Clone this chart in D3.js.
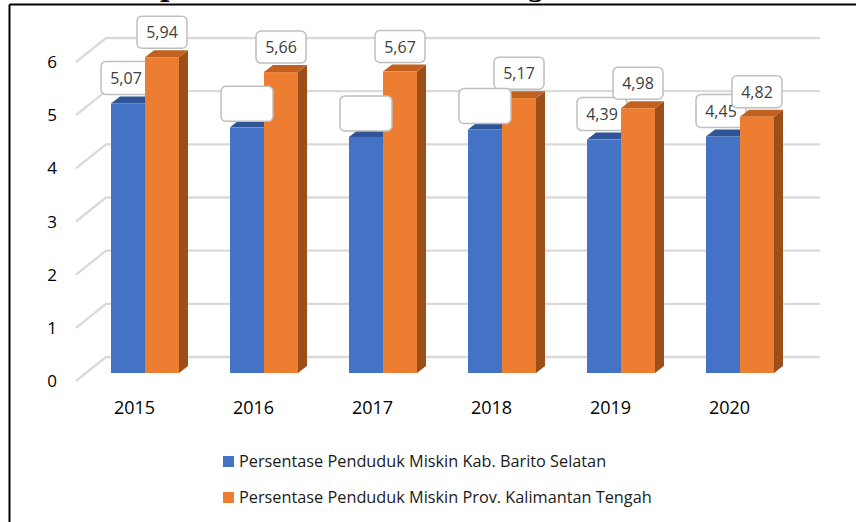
<!DOCTYPE html>
<html>
<head>
<meta charset="utf-8">
<script src="https://cdn.jsdelivr.net/npm/d3@7"></script>
<style>
  html, body { margin: 0; padding: 0; background: #ffffff; }
  svg { display: block; }
</style>
</head>
<body>
<svg id="chart" width="856" height="522"></svg>
<script>
// ---- data ----
const categories = ["2015", "2016", "2017", "2018", "2019", "2020"];
const seriesNames = [
  "Persentase Penduduk Miskin Kab. Barito Selatan",
  "Persentase Penduduk Miskin Prov. Kalimantan Tengah"
];
const kabValues = [5.07, 4.62, 4.44, 4.58, 4.39, 4.45];
const provValues = [5.94, 5.66, 5.67, 5.17, 4.98, 4.82];
const kabLabelShown = [true, false, false, false, true, true];
const yTicks = [0, 1, 2, 3, 4, 5, 6];

// ---- styles ----
const colors = {
  kab: { front: "#4472C4", top: "#2F5597", side: "#2F5597" },
  prov: { front: "#ED7D31", top: "#C2601F", side: "#9C4F1B" }
};
const fontSans = "'Open Sans', 'Noto Sans', sans-serif";

const svg = d3.select("#chart");

// Title remnants (clipped at the top of the frame, as in the source image)
svg.append("text").attr("x", 160).attr("y", -3)
  .attr("font-family", "'DejaVu Serif', 'Liberation Serif', serif")
  .attr("font-weight", "bold").attr("font-size", 26).attr("fill", "#000").text("p");
svg.append("text").attr("x", 527).attr("y", -3)
  .attr("font-family", "'DejaVu Serif', 'Liberation Serif', serif")
  .attr("font-weight", "bold").attr("font-size", 26).attr("fill", "#000").text("g");

// Frame lines
svg.append("line").attr("x1", 9.5).attr("x2", 856).attr("y1", 4.5).attr("y2", 4.5)
  .attr("stroke", "#000").attr("stroke-width", 2);
svg.append("line").attr("x1", 9.5).attr("x2", 9.5).attr("y1", 4.5).attr("y2", 522)
  .attr("stroke", "#000").attr("stroke-width", 2);

// ---- scales ----
const x = d3.scaleBand().domain(categories).range([76, 790]).padding(0);
const inner = d3.scaleBand().domain(["kab", "prov"]).range([35, 103]).padding(0);
const y = d3.scaleLinear().domain([0, 6]).range([381, 62]);

const depth = { dx: 30, dy: -24 };      // wall depth
const barDepth = { dx: 9, dy: -7 };     // bar depth
const barLift = 8;                      // bars sit slightly back on the floor
const gridRight = 820;

// ---- gridlines (left wall diagonals + back wall) ----
const grid = svg.append("g");
yTicks.forEach(t => {
  const fy = y(t);
  grid.append("path")
    .attr("d", `M76,${fy} L${76 + depth.dx},${fy + depth.dy} L${gridRight},${fy + depth.dy}`)
    .attr("fill", "none").attr("stroke", "#dadada").attr("stroke-width", 2.4);
});

// y tick labels
svg.append("g").selectAll("text").data(yTicks).join("text")
  .attr("x", 52).attr("y", d => y(d) + 6)
  .attr("text-anchor", "middle")
  .attr("font-family", fontSans).attr("font-size", 17).attr("fill", "#000")
  .text(d => d);

// category labels
svg.append("g").selectAll("text").data(categories).join("text")
  .attr("x", d => x(d) + x.bandwidth() / 2 - 1).attr("y", 414)
  .attr("text-anchor", "middle")
  .attr("font-family", fontSans).attr("font-size", 18).attr("fill", "#000")
  .text(d => d);

// ---- bars ----
function drawBar(g, x0, w, v, c) {
  const yt = y(v) - barLift, yb = y(0) - barLift, x1 = x0 + w;
  const dx = barDepth.dx, dy = barDepth.dy;
  g.append("path").attr("d", `M${x1},${yt} L${x1 + dx},${yt + dy} L${x1 + dx},${yb + dy} L${x1},${yb}Z`)
    .attr("fill", c.side);
  g.append("path").attr("d", `M${x0},${yt} L${x1},${yt} L${x1 + dx},${yt + dy} L${x0 + dx},${yt + dy}Z`)
    .attr("fill", c.top);
  g.append("rect").attr("x", x0).attr("y", yt).attr("width", w).attr("height", yb - yt)
    .attr("fill", c.front);
}

function labelBox(g, cx, bottom, w, h, txt) {
  g.append("rect").attr("x", cx - w / 2).attr("y", bottom - h).attr("width", w).attr("height", h)
    .attr("rx", 5).attr("fill", "#fff").attr("stroke", "#bfbfbf").attr("stroke-width", 1.5);
  if (txt) {
    g.append("text").attr("x", cx).attr("y", bottom - h / 2 + 6)
      .attr("text-anchor", "middle").attr("font-family", fontSans)
      .attr("font-size", 16).attr("fill", "#404040").text(txt);
  }
}
const fmt = v => d3.format(".2f")(v).replace(".", ",");

const barsG = svg.append("g");
const topLabels = svg.append("g");
const coverG = svg.append("g");
categories.forEach((cat, i) => {
  const bw = inner.bandwidth();
  const kx = x(cat) + inner("kab");
  const px = x(cat) + inner("prov");
  drawBar(barsG, kx, bw, kabValues[i], colors.kab);
  const kTop = y(kabValues[i]) - barLift;
  if (kabLabelShown[i]) {
    labelBox(barsG, kx + bw / 2 - 2, kTop - 9, 50, 33, fmt(kabValues[i]));
  } else {
    labelBox(coverG, kx + bw / 2, kTop - 6, 52, 35, "");
  }
  drawBar(barsG, px, bw, provValues[i], colors.prov);
  const pTop = y(provValues[i]) - barLift;
  labelBox(topLabels, px + bw / 2, pTop - 9, 50, 32, fmt(provValues[i]));
});

// ---- legend ----
const legend = svg.append("g");
const legendRows = [
  { name: seriesNames[0], color: colors.kab.front, y: 456 },
  { name: seriesNames[1], color: colors.prov.front, y: 492 }
];
legendRows.forEach(r => {
  legend.append("rect").attr("x", 223).attr("y", r.y).attr("width", 11).attr("height", 11)
    .attr("fill", r.color);
  legend.append("text").attr("x", 239).attr("y", r.y + 11)
    .attr("font-family", fontSans).attr("font-size", 16.3).attr("fill", "#1a1a1a")
    .text(r.name);
});
</script>
</body>
</html>
